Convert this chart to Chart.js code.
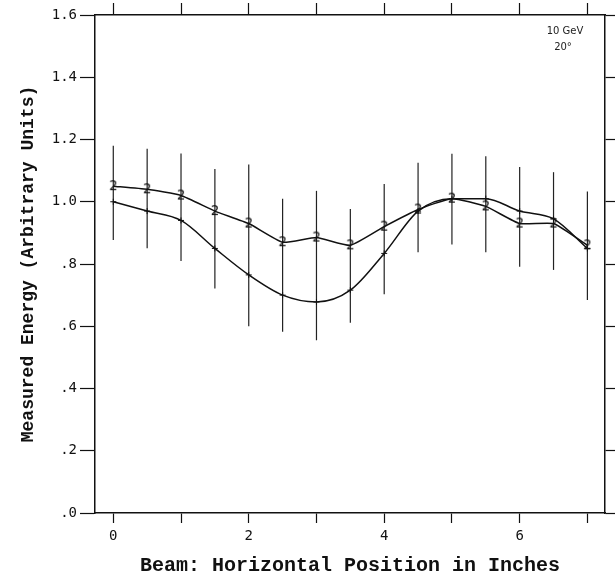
<!DOCTYPE html>
<html>
<head>
<meta charset="utf-8">
<script src="https://cdn.jsdelivr.net/npm/chart.js@4"></script>
<style>
  html, body { margin: 0; padding: 0; background: #fff; }
  #wrap { width: 615px; height: 586px; }
</style>
</head>
<body>
<div id="wrap"><canvas id="chart" width="615" height="586"></canvas></div>
<script>
// beam position (inches)
var positions = [0, 0.5, 1, 1.5, 2, 2.5, 3, 3.5, 4, 4.5, 5, 5.5, 6, 6.5, 7];
// upper curve, "2" markers
var energy2 = [1.05, 1.04, 1.02, 0.97, 0.93, 0.87, 0.885, 0.86, 0.92, 0.975, 1.01, 0.985, 0.93, 0.93, 0.86];
// lower smooth curve, "+" markers
var energyPlus = [1.0, 0.97, 0.94, 0.85, 0.765, 0.70, 0.678, 0.716, 0.834, 0.97, 1.01, 1.01, 0.97, 0.945, 0.85];
// error bar ends
var errTop = [1.18, 1.17, 1.155, 1.105, 1.12, 1.01, 1.035, 0.977, 1.057, 1.125, 1.154, 1.146, 1.112, 1.095, 1.033];
var errBottom = [0.877, 0.851, 0.81, 0.721, 0.60, 0.582, 0.555, 0.611, 0.703, 0.838, 0.863, 0.838, 0.791, 0.781, 0.684];
var yTicks = [0, 0.2, 0.4, 0.6, 0.8, 1.0, 1.2, 1.4, 1.6];
var xLabels = [0, 2, 4, 6];

function toPoints(ys) {
  return positions.map(function (x, i) {
    return { x: x, y: ys[i] };
  });
}

// "2" glyph used as point marker
var twoMark = document.createElement("canvas");
twoMark.width = 12;
twoMark.height = 14;
var tctx = twoMark.getContext("2d");
tctx.font = "14px 'DejaVu Sans Mono'";
tctx.textAlign = "center";
tctx.textBaseline = "middle";
tctx.fillStyle = "#111";
tctx.fillText("2", 6, 7.5);

var errorBars = {
  id: "errorBars",
  beforeDatasetsDraw: function (chart) {
    var ctx = chart.ctx;
    var xs = chart.scales.x, ys = chart.scales.y;
    ctx.save();
    ctx.strokeStyle = "#222";
    ctx.lineWidth = 1.2;
    positions.forEach(function (x, i) {
      var px = xs.getPixelForValue(x);
      ctx.beginPath();
      ctx.moveTo(px, ys.getPixelForValue(errTop[i]));
      ctx.lineTo(px, ys.getPixelForValue(errBottom[i]));
      ctx.stroke();
    });
    ctx.restore();
  }
};

var note = {
  id: "note",
  afterDraw: function (chart) {
    var ctx = chart.ctx;
    var xs = chart.scales.x, ys = chart.scales.y;
    ctx.save();
    ctx.fillStyle = "#222";
    ctx.font = "10px 'DejaVu Sans'";
    ctx.textAlign = "center";
    ctx.textBaseline = "middle";
    ctx.fillText("10 GeV", xs.getPixelForValue(6.67), ys.getPixelForValue(1.548));
    ctx.fillText("20°", xs.getPixelForValue(6.64), ys.getPixelForValue(1.497));
    ctx.restore();
  }
};

var tickFont = { family: "'DejaVu Sans Mono'", size: 14 };
var xMin = -0.27, xMax = 7.26;

var ctx = document.getElementById("chart");
var myChart = new Chart(ctx, {
  type: "line",
  data: {
    datasets: [
      {
        label: "upper",
        data: toPoints(energy2),
        borderColor: "#111",
        borderWidth: 1.5,
        tension: 0.15,
        pointStyle: twoMark,
        pointRadius: 6,
        fill: false
      },
      {
        label: "lower",
        data: toPoints(energyPlus),
        borderColor: "#111",
        borderWidth: 1.5,
        cubicInterpolationMode: "monotone",
        pointStyle: "cross",
        pointRadius: 3,
        pointBorderWidth: 1,
        pointBorderColor: "#111",
        fill: false
      }
    ]
  },
  options: {
    responsive: false,
    animation: false,
    layout: { padding: { top: 3, right: 0, left: 0, bottom: 0 } },
    plugins: {
      legend: { display: false },
      tooltip: { enabled: false }
    },
    scales: {
      x: {
        type: "linear",
        position: "bottom",
        min: xMin,
        max: xMax,
        afterFit: function (s) { s.height = 73; },
        border: { color: "#111", width: 1.5 },
        grid: { drawOnChartArea: false, tickLength: 10, tickColor: "#111", tickWidth: 1.2 },
        ticks: {
          stepSize: 1,
          includeBounds: false,
          maxRotation: 0,
          autoSkip: false,
          padding: 5,
          color: "#111",
          font: tickFont,
          callback: function (v) {
            return xLabels.indexOf(v) >= 0 ? String(v) : "";
          }
        },
        title: {
          display: true,
          text: "Beam: Horizontal Position in Inches",
          color: "#111",
          font: { family: "'Liberation Mono'", size: 20, weight: "bold" },
          padding: { top: 0, bottom: 8 }
        }
      },
      x2: {
        type: "linear",
        position: "top",
        min: xMin,
        max: xMax,
        border: { color: "#111", width: 1.5 },
        grid: { drawOnChartArea: false, tickLength: 12, tickColor: "#111", tickWidth: 1.2 },
        ticks: { display: false, stepSize: 1, includeBounds: false }
      },
      y: {
        position: "left",
        min: 0,
        max: 1.6,
        afterFit: function (s) { s.width = 95; },
        afterBuildTicks: function (s) {
          s.ticks = yTicks.map(function (v) { return { value: v }; });
        },
        border: { color: "#111", width: 1.5 },
        grid: { drawOnChartArea: false, tickLength: 15, tickColor: "#111", tickWidth: 1.2 },
        ticks: {
          padding: 3,
          color: "#111",
          font: tickFont,
          callback: function (v) {
            var s = v.toFixed(1);
            return v < 1 ? s.slice(1) : s;
          }
        },
        title: {
          display: true,
          text: "Measured Energy (Arbitrary Units)",
          color: "#111",
          font: { family: "'Liberation Mono'", size: 18, weight: "bold" },
          padding: { top: 18, bottom: 0 }
        }
      },
      y2: {
        position: "right",
        min: 0,
        max: 1.6,
        afterBuildTicks: function (s) {
          s.ticks = yTicks.map(function (v) { return { value: v }; });
        },
        border: { color: "#111", width: 1.5 },
        grid: { drawOnChartArea: false, tickLength: 10, tickColor: "#111", tickWidth: 1.2 },
        ticks: { display: false }
      }
    }
  },
  plugins: [errorBars, note]
});
</script>
</body>
</html>
